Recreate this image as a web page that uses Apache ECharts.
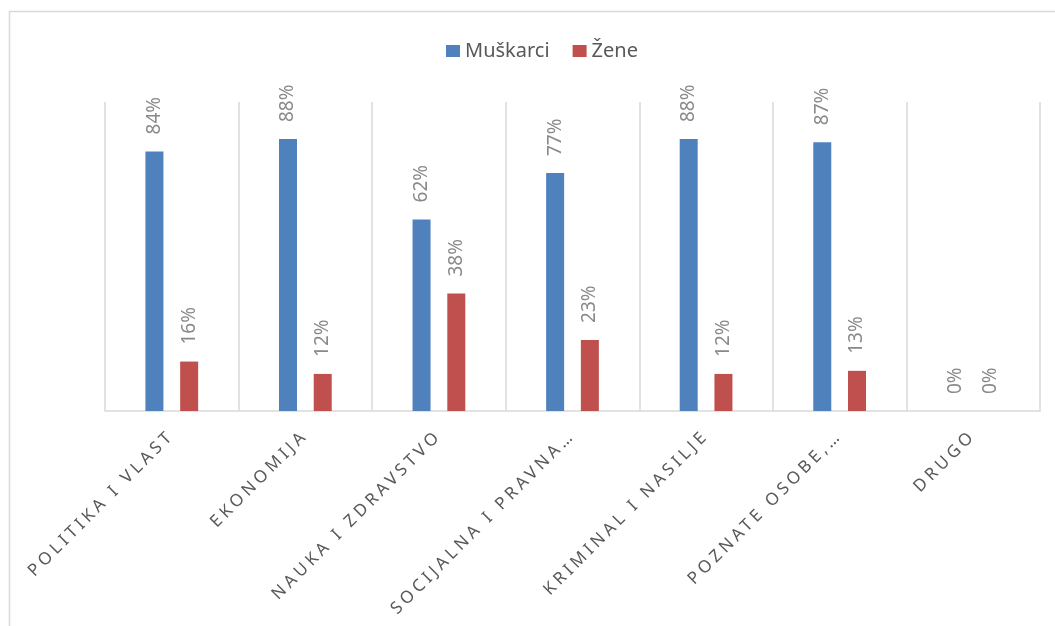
<!DOCTYPE html>
<html>
<head>
<meta charset="utf-8">
<script src="https://cdn.jsdelivr.net/npm/echarts@6/dist/echarts.min.js"></script>
<style>
html,body{margin:0;padding:0;background:#fff;}
#chart{width:1055px;height:626px;}
</style>
</head>
<body>
<div id="chart"></div>
<script>
const categories = ['POLITIKA I VLAST', 'EKONOMIJA', 'NAUKA I ZDRAVSTVO', 'SOCIJALNA I PRAVNA…', 'KRIMINAL I NASILJE', 'POZNATE OSOBE,…', 'DRUGO'];
const seriesNames = ['Muškarci', 'Žene'];
const muskarci = [84, 88, 62, 77, 88, 87, 0];
const zene = [16, 12, 38, 23, 12, 13, 0];

// spaced letters for category labels (marked by the Lato fallback in their font list)
(function () {
  const proto = CanvasRenderingContext2D.prototype;
  const orig = proto.fillText;
  proto.fillText = function (t, x, y, m) {
    if ('letterSpacing' in this) {
      this.letterSpacing = (this.font && this.font.indexOf('Lato') >= 0) ? '3.8px' : '0px';
    }
    return m === undefined ? orig.call(this, t, x, y) : orig.call(this, t, x, y, m);
  };
})();

const chart = echarts.init(document.getElementById('chart'), null, { renderer: 'canvas' });

const labelCfg = {
  show: true,
  position: 'top',
  distance: 17,
  rotate: 90,
  align: 'left',
  verticalAlign: 'middle',
  formatter: '{c}%',
  color: '#898989',
  fontSize: 19,
  fontFamily: 'Noto Sans'
};

chart.setOption({
  animation: false,
  backgroundColor: '#ffffff',
  graphic: [{
    type: 'rect',
    shape: { x: 9.5, y: 11.5, width: 1100, height: 700 },
    style: { fill: 'none', stroke: '#d9d9d9', lineWidth: 1.5 },
    silent: true,
    z: -1
  }],
  legend: {
    data: seriesNames,
    left: 441,
    top: 36,
    icon: 'rect',
    itemWidth: 14,
    itemHeight: 12,
    itemGap: 23,
    textStyle: { color: '#595959', fontSize: 20, fontFamily: 'Noto Sans' }
  },
  grid: { left: 105, right: 15, top: 102, bottom: 215, containLabel: false },
  xAxis: {
    type: 'category',
    data: categories,
    boundaryGap: true,
    axisLine: { show: true, lineStyle: { color: '#d9d9d9', width: 1.5 } },
    axisTick: { show: false },
    splitLine: { show: true, lineStyle: { color: '#d9d9d9', width: 1.5 } },
    axisLabel: {
      interval: 0,
      rotate: 45,
      margin: 22,
      color: '#595959',
      fontSize: 17,
      fontFamily: "'Noto Sans', Lato"
    }
  },
  yAxis: {
    type: 'value',
    min: 0,
    max: 100,
    show: false,
    splitLine: { show: false }
  },
  series: [
    {
      name: seriesNames[0],
      type: 'bar',
      data: muskarci,
      barWidth: 18,
      barGap: '93%',
      itemStyle: { color: '#4f81bd' },
      label: labelCfg
    },
    {
      name: seriesNames[1],
      type: 'bar',
      data: zene,
      barWidth: 18,
      itemStyle: { color: '#c0504d' },
      label: labelCfg
    }
  ]
});
</script>
</body>
</html>
